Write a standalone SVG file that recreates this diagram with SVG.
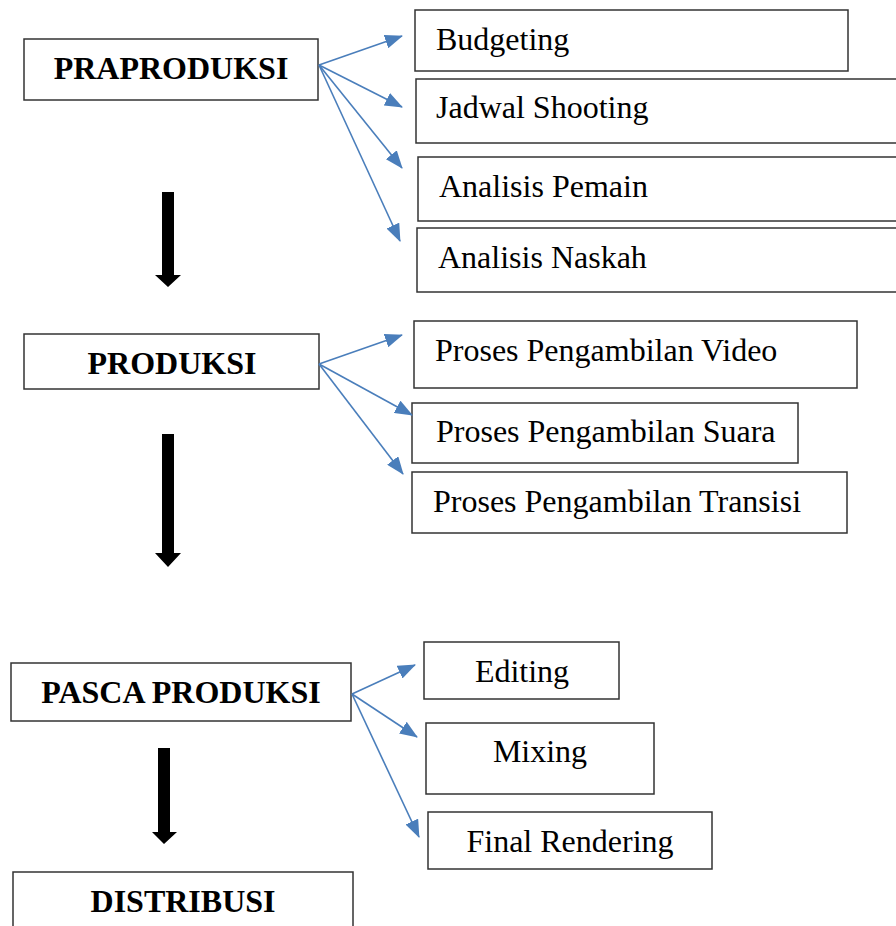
<svg xmlns="http://www.w3.org/2000/svg" width="896" height="926" viewBox="0 0 896 926">
<style>
.box{fill:#fff;stroke:#333;stroke-width:1.5}
.t{font-family:"Liberation Serif","Times New Roman",serif;font-size:32px;fill:#000}
.b{font-weight:bold;text-anchor:middle}
.c{text-anchor:middle}
.con{stroke:#4A7EBB;stroke-width:1.6;fill:none;marker-end:url(#ah)}
.down{fill:#000}
</style>
<defs>
<marker id="ah" markerUnits="userSpaceOnUse" viewBox="0 0 18 14" markerWidth="18" markerHeight="14" refX="17" refY="7" orient="auto">
<path d="M0,0 L18,7 L0,14 z" fill="#4A7EBB"/>
</marker>
</defs>
<rect width="896" height="926" fill="#fff"/>
<g id="praproduksi"><rect class="box" x="24" y="39" width="294" height="61"/><text class="t b" x="171" y="79">PRAPRODUKSI</text></g>
<g id="budgeting"><rect class="box" x="415" y="10" width="433" height="61"/><text class="t" x="436" y="50">Budgeting</text></g>
<g id="jadwal"><rect class="box" x="416" y="79" width="490" height="64"/><text class="t" x="436" y="118">Jadwal Shooting</text></g>
<g id="pemain"><rect class="box" x="418" y="157" width="490" height="64"/><text class="t" x="439" y="197">Analisis Pemain</text></g>
<g id="naskah"><rect class="box" x="417" y="228" width="490" height="64"/><text class="t" x="438" y="268">Analisis Naskah</text></g>
<g id="produksi"><rect class="box" x="24" y="334" width="295" height="55"/><text class="t b" x="172" y="374">PRODUKSI</text></g>
<g id="video"><rect class="box" x="414" y="321" width="443" height="67"/><text class="t" x="435" y="361">Proses Pengambilan Video</text></g>
<g id="suara"><rect class="box" x="412" y="403" width="386" height="60"/><text class="t" x="436" y="442">Proses Pengambilan Suara</text></g>
<g id="transisi"><rect class="box" x="412" y="472" width="435" height="61"/><text class="t" x="433" y="512">Proses Pengambilan Transisi</text></g>
<g id="pasca"><rect class="box" x="11" y="663" width="340" height="58"/><text class="t b" x="181" y="703">PASCA PRODUKSI</text></g>
<g id="editing"><rect class="box" x="424" y="642" width="195" height="57"/><text class="t c" x="522" y="682">Editing</text></g>
<g id="mixing"><rect class="box" x="426" y="723" width="228" height="71"/><text class="t c" x="540" y="762">Mixing</text></g>
<g id="rendering"><rect class="box" x="428" y="812" width="284" height="57"/><text class="t c" x="570" y="852">Final Rendering</text></g>
<g id="distribusi"><rect class="box" x="13" y="872" width="340" height="70"/><text class="t b" x="183" y="912">DISTRIBUSI</text></g>
<g id="connectors">
<line class="con" x1="319" y1="65" x2="402" y2="36"/>
<line class="con" x1="319" y1="65" x2="402" y2="107"/>
<line class="con" x1="319" y1="65" x2="402" y2="168"/>
<line class="con" x1="319" y1="65" x2="400" y2="241"/>
<line class="con" x1="319" y1="364" x2="402" y2="335"/>
<line class="con" x1="319" y1="364" x2="412" y2="415"/>
<line class="con" x1="319" y1="364" x2="403" y2="474"/>
<line class="con" x1="352" y1="694" x2="415" y2="665"/>
<line class="con" x1="352" y1="694" x2="417" y2="737"/>
<line class="con" x1="352" y1="694" x2="419" y2="837"/>
<polygon class="down" points="162,192 174,192 174,275 181,275 168,287 155,275 162,275"/>
<polygon class="down" points="162,434 174,434 174,553 181,553 168,567 155,553 162,553"/>
<polygon class="down" points="158,748 170,748 170,832 177,832 164,844 152,832 158,832"/>
</g>
</svg>
